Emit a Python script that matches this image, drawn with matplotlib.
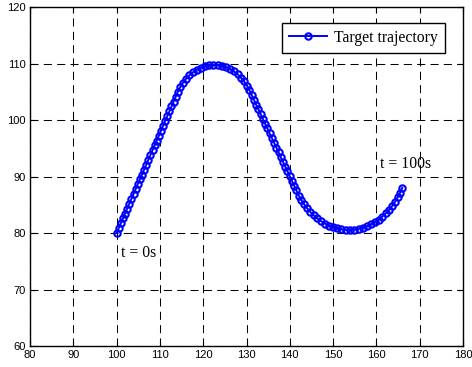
import matplotlib.pyplot as plt

# target positions, one sample per second from t = 0s to t = 100s
x_pos = [100.00, 100.49, 100.97, 101.46, 101.95, 102.44, 102.92, 103.41, 103.90, 104.39,
         104.87, 105.36, 105.85, 106.34, 106.82, 107.31, 107.80, 108.29, 108.77, 109.26,
         109.75, 110.24, 110.72, 111.21, 111.70, 112.19, 112.67, 113.16, 113.65, 114.14,
         114.69, 115.31, 116.01, 116.78, 117.61, 118.49, 119.41, 120.36, 121.34, 122.33,
         123.32, 124.30, 125.26, 126.19, 127.09, 127.93, 128.72, 129.45, 130.10, 130.67,
         131.19, 131.71, 132.22, 132.74, 133.26, 133.77, 134.29, 134.81, 135.32, 135.84,
         136.36, 136.87, 137.39, 137.91, 138.42, 138.94, 139.46, 139.97, 140.49, 141.01,
         141.52, 142.07, 142.65, 143.30, 144.00, 144.74, 145.53, 146.36, 147.22, 148.12,
         149.04, 149.99, 150.95, 151.93, 152.92, 153.91, 154.90, 155.88, 156.85, 157.80,
         158.73, 159.64, 160.52, 161.36, 162.17, 162.93, 163.64, 164.30, 164.92, 165.47,
         165.96]
y_pos = [80.00, 80.86, 81.72, 82.59, 83.45, 84.31, 85.17, 86.03, 86.89, 87.76,
         88.62, 89.48, 90.34, 91.20, 92.06, 92.93, 93.79, 94.65, 95.51, 96.37,
         97.23, 98.10, 98.96, 99.82, 100.68, 101.54, 102.40, 103.27, 104.13, 104.99,
         105.82, 106.58, 107.28, 107.90, 108.44, 108.90, 109.26, 109.52, 109.69, 109.76,
         109.73, 109.59, 109.36, 109.03, 108.60, 108.09, 107.49, 106.82, 106.08, 105.27,
         104.42, 103.58, 102.73, 101.89, 101.04, 100.20, 99.35, 98.51, 97.66, 96.82,
         95.97, 95.13, 94.29, 93.44, 92.60, 91.75, 90.91, 90.06, 89.22, 88.37,
         87.53, 86.62, 85.83, 85.08, 84.37, 83.72, 83.12, 82.58, 82.10, 81.68,
         81.32, 81.03, 80.81, 80.66, 80.58, 80.56, 80.62, 80.75, 80.94, 81.21,
         81.53, 81.93, 82.39, 82.91, 83.49, 84.12, 84.80, 85.53, 86.32, 87.14,
         87.99]

x_ticks = [80, 90, 100, 110, 120, 130, 140, 150, 160, 170, 180]
y_ticks = [60, 70, 80, 90, 100, 110, 120]

plt.rcParams['font.family'] = 'Liberation Sans'
plt.rcParams['lines.scale_dashes'] = False
serif = 'Liberation Serif'

fig = plt.figure(figsize=(4.72, 3.67), dpi=100)
ax = fig.add_axes([0.0636, 0.0572, 0.9174, 0.9237])

ax.plot(x_pos, y_pos, color=(0, 0, 1), lw=1.4, marker='o', ms=4.6,
        mfc='none', mec=(0, 0, 1), mew=1.5, label='Target trajectory', zorder=3)

ax.text(100.9, 76.5, 't = 0s', family=serif, fontsize=11.3, ha='left', va='center')
ax.text(160.8, 92.2, 't = 100s', family=serif, fontsize=11.3, ha='left', va='center')

ax.set_xlim(80, 180)
ax.set_ylim(60, 120)
ax.set_xticks(x_ticks)
ax.set_yticks(y_ticks)
ax.tick_params(direction='in', length=4, width=0.8, top=True, right=True,
               labelsize=8, pad=3)
ax.grid(True, color='k', lw=0.75, linestyle=(0, (5.8, 3.8)))
for sp in ax.spines.values():
    sp.set_linewidth(1.0)

leg = ax.legend(loc='upper right', bbox_to_anchor=(0.958, 0.954), borderaxespad=0,
                prop={'family': serif, 'size': 11.3}, handlelength=2.45,
                handletextpad=0.43, borderpad=0.45, fancybox=False, framealpha=1)
leg.get_frame().set_edgecolor('k')
leg.get_frame().set_linewidth(1.0)

fig.savefig('out.png', dpi=100)
